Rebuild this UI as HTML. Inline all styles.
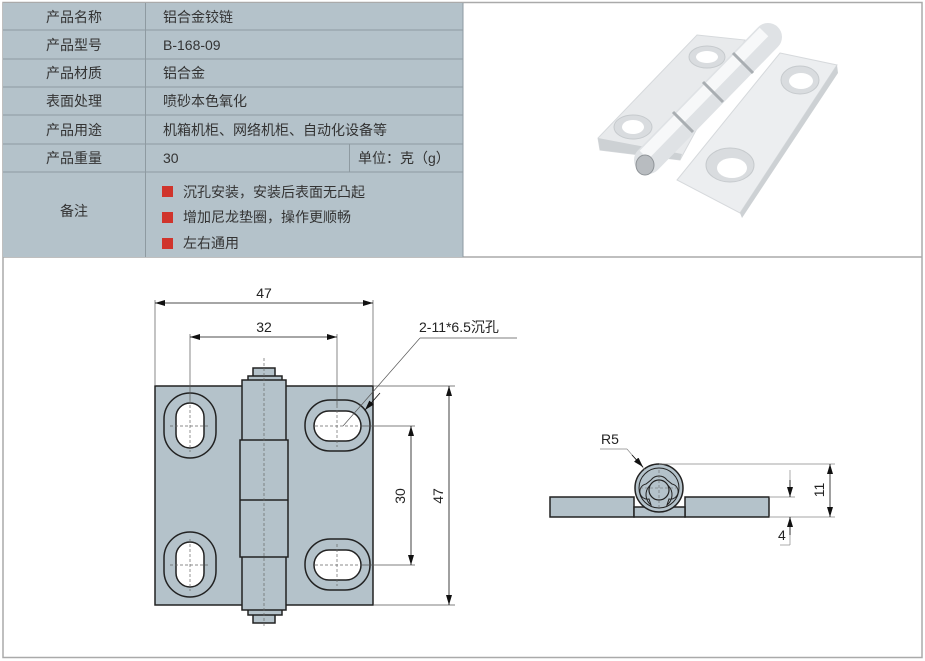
<!DOCTYPE html>
<html><head><meta charset="utf-8"><style>
body{margin:0;background:#fff;width:925px;height:661px;overflow:hidden}
svg{display:block}
.t{font-family:"Liberation Sans","Noto Sans CJK SC",sans-serif;font-size:14px;fill:#333}
.d{font-family:"Liberation Sans",sans-serif;font-size:14px;fill:#222}
</style></head><body>
<svg width="925" height="661" viewBox="0 0 925 661">
<defs>
<marker id="a" viewBox="0 0 10 6" refX="10" refY="3" markerWidth="10" markerHeight="6" orient="auto-start-reverse" markerUnits="userSpaceOnUse"><path d="M0,0L10,3L0,6z" fill="#111"/></marker>
</defs>
<rect x="3" y="2.5" width="919" height="655" fill="#fff" stroke="#aaa" stroke-width="1.5"/>
<line x1="3" y1="257" x2="922" y2="257" stroke="#aaa" stroke-width="1.5"/>
<rect x="3" y="3" width="460" height="254" fill="#b4c2ca"/>
<g stroke="#8e9aa1" stroke-width="1">
<line x1="3" y1="30" x2="463" y2="30"/><line x1="3" y1="59" x2="463" y2="59"/>
<line x1="3" y1="87" x2="463" y2="87"/><line x1="3" y1="115" x2="463" y2="115"/>
<line x1="3" y1="144" x2="463" y2="144"/><line x1="3" y1="172" x2="463" y2="172"/>
<line x1="145.5" y1="3" x2="145.5" y2="257"/><line x1="349.5" y1="144" x2="349.5" y2="172"/>
<line x1="463" y1="3" x2="463" y2="257"/>
</g>
<g class="t">
<text x="74" y="22" text-anchor="middle">产品名称</text>
<text x="74" y="50" text-anchor="middle">产品型号</text>
<text x="74" y="78" text-anchor="middle">产品材质</text>
<text x="74" y="106" text-anchor="middle">表面处理</text>
<text x="74" y="135" text-anchor="middle">产品用途</text>
<text x="74" y="163" text-anchor="middle">产品重量</text>
<text x="74" y="216" text-anchor="middle">备注</text>
<text x="163" y="22">铝合金铰链</text>
<text x="163" y="50">B-168-09</text>
<text x="163" y="78">铝合金</text>
<text x="163" y="106">喷砂本色氧化</text>
<text x="163" y="135">机箱机柜、网络机柜、自动化设备等</text>
<text x="163" y="163">30</text>
<text x="358" y="163">单位：克（g）</text>
<text x="183" y="197">沉孔安装，安装后表面无凸起</text>
<text x="183" y="222">增加尼龙垫圈，操作更顺畅</text>
<text x="183" y="248">左右通用</text>
</g>
<rect x="162" y="186" width="11" height="11" fill="#d0342c"/>
<rect x="162" y="212" width="11" height="11" fill="#d0342c"/>
<rect x="162" y="238" width="11" height="11" fill="#d0342c"/>
<!-- photo -->
<g>
<polygon points="697,35 745,40 680,160 600,150 598,138" fill="#e8eaec" stroke="#d6d9dc"/>
<polygon points="598,138 600,150 680,160 682,154" fill="#cdd1d4"/>
<polygon points="780,53 837,65 740,213 677,180" fill="#eceef0" stroke="#d6d9dc"/>
<polygon points="837,65 838,73 742,218 740,213" fill="#cdd1d4"/>
<ellipse cx="707" cy="57" rx="18" ry="11" fill="#d9dcdf" stroke="#c6cacd"/>
<ellipse cx="633" cy="127" rx="19" ry="12" fill="#d9dcdf" stroke="#c6cacd"/>
<ellipse cx="800" cy="80" rx="19" ry="14" fill="#d9dcdf" stroke="#c6cacd"/>
<ellipse cx="730" cy="165" rx="24" ry="17" fill="#d9dcdf" stroke="#c6cacd"/>
<ellipse cx="707" cy="57" rx="11" ry="6" fill="#fff"/>
<ellipse cx="633" cy="127" rx="11" ry="7" fill="#fff"/>
<ellipse cx="801" cy="81" rx="12" ry="8" fill="#fff"/>
<ellipse cx="732" cy="168" rx="15" ry="10" fill="#fff"/>
<line x1="648" y1="160" x2="768" y2="37" stroke="#dfe2e5" stroke-width="28" stroke-linecap="round"/>
<line x1="644" y1="155" x2="764" y2="32" stroke="#f7f8f9" stroke-width="12"/>
<g stroke="#a9aeb2" stroke-width="3"><line x1="733" y1="53" x2="753" y2="73"/><line x1="703" y1="82" x2="723" y2="102"/><line x1="673" y1="112" x2="693" y2="132"/></g>
<ellipse cx="645" cy="165" rx="9" ry="10" fill="#b8bcc0" stroke="#8f9498"/>
</g>
<!-- front view -->
<g stroke="#222" stroke-width="1.5" fill="#b4c2ca">
<rect x="155" y="386" width="218" height="219"/>
<rect x="253" y="368" width="22" height="9"/><rect x="248" y="376" width="34" height="10"/>
<rect x="253" y="614" width="22" height="9"/><rect x="248" y="605" width="34" height="10"/>
<rect x="242" y="380" width="44" height="230"/>
<rect x="240" y="440" width="48" height="117"/>
<line x1="240" y1="500" x2="288" y2="500"/>
<rect x="164" y="393" width="52" height="65" rx="26"/>
<rect x="164" y="532" width="52" height="65" rx="26"/>
<rect x="305" y="400" width="65" height="51" rx="25"/>
<rect x="305" y="539" width="65" height="51" rx="25"/>
<rect x="176" y="403" width="28" height="45" rx="14" fill="#fff"/>
<rect x="176" y="542" width="28" height="45" rx="14" fill="#fff"/>
<rect x="314" y="411" width="47" height="30" rx="15" fill="#fff"/>
<rect x="314" y="550" width="47" height="30" rx="15" fill="#fff"/>
</g>
<g stroke="#666" stroke-width="0.7" stroke-dasharray="3,2" fill="none">
<line x1="264" y1="358" x2="264" y2="628"/>
<line x1="170" y1="426" x2="210" y2="426"/><line x1="190" y1="400" x2="190" y2="452"/>
<line x1="170" y1="565" x2="210" y2="565"/><line x1="190" y1="539" x2="190" y2="591"/>
<line x1="315" y1="426" x2="360" y2="426"/><line x1="337" y1="405" x2="337" y2="447"/>
<line x1="315" y1="565" x2="360" y2="565"/><line x1="337" y1="544" x2="337" y2="586"/>
</g>
<g stroke="#555" stroke-width="0.7" fill="none">
<line x1="155" y1="300" x2="155" y2="386"/><line x1="373" y1="300" x2="373" y2="386"/>
<line x1="190" y1="334" x2="190" y2="400"/><line x1="337" y1="334" x2="337" y2="405"/>
<line x1="360" y1="426" x2="415" y2="426"/><line x1="360" y1="565" x2="415" y2="565"/>
<line x1="373" y1="386" x2="455" y2="386"/><line x1="373" y1="605" x2="455" y2="605"/>
<line x1="420" y1="338" x2="517" y2="338"/><line x1="420" y1="338" x2="343" y2="426"/>
</g>
<g stroke="#111" stroke-width="0.8" marker-start="url(#a)" marker-end="url(#a)">
<line x1="155" y1="303" x2="373" y2="303"/>
<line x1="190" y1="337" x2="337" y2="337"/>
<line x1="411" y1="426" x2="411" y2="565"/>
<line x1="449" y1="386" x2="449" y2="605"/>
</g>
<line x1="380" y1="393" x2="365" y2="410" stroke="#111" stroke-width="0.8" marker-end="url(#a)"/>
<g class="d">
<text x="264" y="298" text-anchor="middle">47</text>
<text x="264" y="332" text-anchor="middle">32</text>
<text x="419" y="332" fill="#222" font-family="Liberation Sans,Noto Sans CJK SC,sans-serif">2-11*6.5沉孔</text>
<text transform="translate(405,496) rotate(-90)" text-anchor="middle">30</text>
<text transform="translate(443,496) rotate(-90)" text-anchor="middle">47</text>
</g>
<!-- side view -->
<g stroke="#222" stroke-width="1.5" fill="#b4c2ca">
<rect x="550" y="497" width="84" height="20"/>
<rect x="685" y="497" width="84" height="20"/>
<rect x="634" y="507" width="51" height="10"/>
<circle cx="659" cy="488" r="24"/>
<circle cx="659" cy="488" r="20" fill="none" stroke-width="1"/>
<path d="M651,505 A13,13 0 1 1 667,505 L669,499 A7,7 0 0 0 672,484 L667,480 A10,10 0 0 0 651,480 L646,484 A7,7 0 0 0 649,499 Z" fill="#b4c2ca" stroke-width="1"/>
<circle cx="659" cy="490" r="10" fill="#b4c2ca" stroke-width="1.2"/>
</g>
<g stroke="#666" stroke-width="0.6" stroke-dasharray="3,2"><line x1="640" y1="488" x2="680" y2="488"/><line x1="659" y1="470" x2="659" y2="510"/></g>
<g stroke="#888" stroke-width="0.7" fill="none">
<line x1="659" y1="464" x2="835" y2="464"/><line x1="769" y1="497" x2="795" y2="497"/>
<line x1="769" y1="517" x2="835" y2="517"/>
<line x1="600" y1="449" x2="627" y2="449"/><line x1="627" y1="449" x2="645" y2="470"/>
<line x1="790" y1="470" x2="790" y2="497"/><line x1="790" y1="517" x2="790" y2="545"/><line x1="780" y1="545" x2="790" y2="545"/>
</g>
<g stroke="#111" stroke-width="0.8">
<line x1="830" y1="464" x2="830" y2="517" marker-start="url(#a)" marker-end="url(#a)"/>
<line x1="790" y1="480" x2="790" y2="497" marker-end="url(#a)"/>
<line x1="790" y1="535" x2="790" y2="517" marker-end="url(#a)"/>
<line x1="632" y1="455" x2="643" y2="467" marker-end="url(#a)"/>
</g>
<g class="d">
<text x="601" y="444">R5</text>
<text transform="translate(824,490) rotate(-90)" text-anchor="middle">11</text>
<text x="778" y="540">4</text>
</g>
</svg>
</body></html>
